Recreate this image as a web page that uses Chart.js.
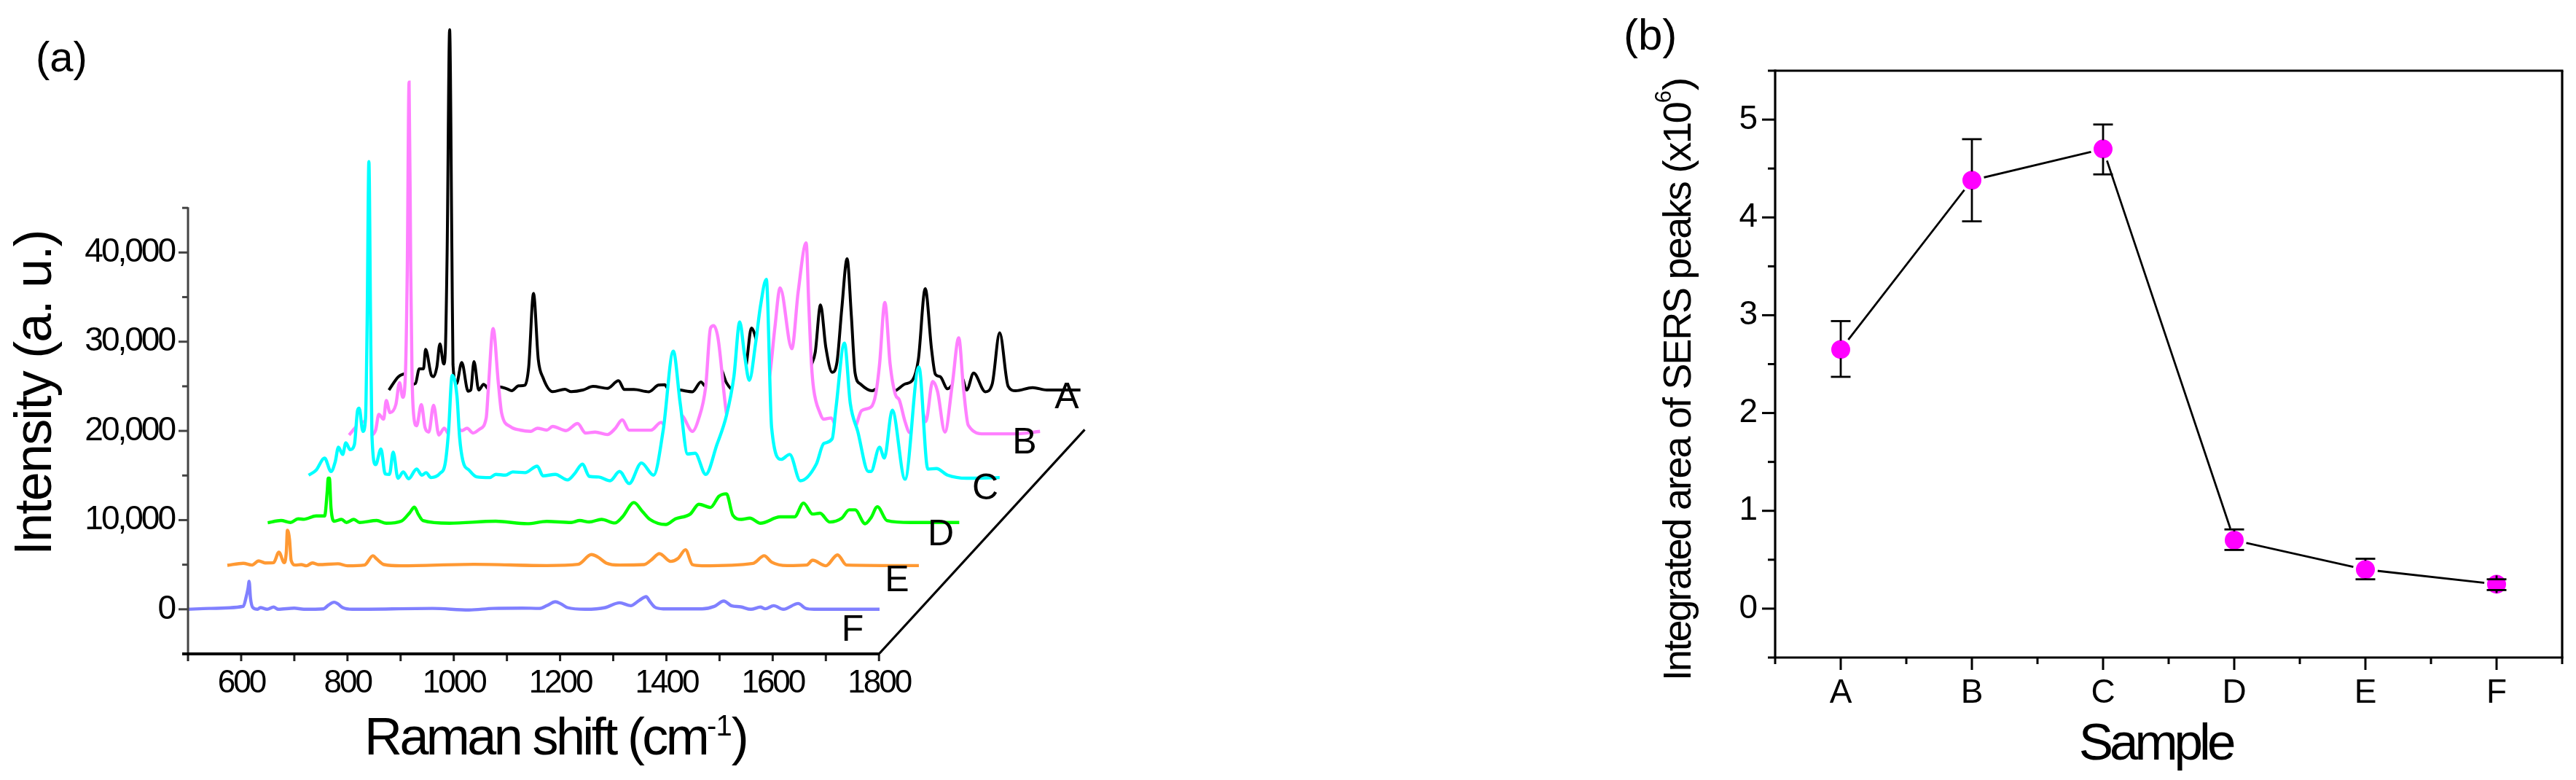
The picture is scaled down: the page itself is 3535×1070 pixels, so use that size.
<!DOCTYPE html>
<html><head><meta charset="utf-8">
<script src="https://cdn.jsdelivr.net/npm/chart.js@4"></script>
<style>
html,body{margin:0;padding:0;background:#fff;width:3535px;height:1070px;overflow:hidden}
canvas{position:absolute;top:0;left:0}
#wrapA{position:absolute;left:0;top:0;width:1540px;height:1070px}
#wrapB{position:absolute;left:2100px;top:0;width:1435px;height:1070px}
</style></head><body>
<div id="wrapA"><canvas id="a" width="1540" height="1070"></canvas></div>
<div id="wrapB"><canvas id="b" width="1435" height="1070"></canvas></div>
<script>
const FONT='"Liberation Sans"';
// ---- panel (a): spectra as drawn in the waterfall, [plotted shift, intensity]
const spectrumA=[[878,24580],[896,26080],[910,26410],[921,25210],[928,25320],[935,26960],[943,26960],[947,29140],[958,26220],[962,26080],[968,27100],[974,29760],[981,27500],[984,28810],[987.5,40000],[992.2,64980],[996.5,40000],[998.5,27450],[1005,25270],[1015,27670],[1027,24450],[1032,24580],[1038,27770],[1047,24580],[1056,25210],[1068,24580],[1086,24940],[1100,24720],[1109,24500],[1122,25050],[1134,25130],[1141,27180],[1150,35410],[1159,28000],[1168,25950],[1186,24400],[1209,24660],[1221,24400],[1243,24580],[1262,24990],[1289,24770],[1310,25620],[1321,24640],[1339,24640],[1367,24390],[1385,25130],[1397,25180],[1403,24720],[1424,24580],[1449,24390],[1465,25480],[1474,24990],[1490,25500],[1502,26900],[1513,25400],[1526,24580],[1540,25500],[1550,27310],[1560,31530],[1570,30000],[1585,26000],[1600,25000],[1640,24700],[1660,25500],[1673,27440],[1680,28800],[1690,34120],[1700,29350],[1712,26570],[1721,27720],[1730,33710],[1740,39300],[1748,32900],[1755,26490],[1765,25260],[1787,24500],[1796,24720],[1812,24400],[1828,24450],[1849,25260],[1863,25670],[1874,27990],[1887,35950],[1899,29080],[1906,26350],[1915,26080],[1929,24720],[1940,25260],[1948,25500],[1956,25940],[1965,24580],[1978,26490],[2000,24390],[2013,25260],[2027,30990],[2043,25000],[2057,24500],[2089,24850],[2116,24580],[2179,24580]];
const spectrumB=[[803,19540],[819,20630],[832,21040],[838,21000],[844,19540],[853,20090],[859,21860],[868,21310],[873,23410],[880,22050],[891,22950],[898,25400],[904,23760],[909,26360],[912.5,38000],[915.9,59090],[919,38000],[921.4,26630],[923.6,22540],[930,20580],[939,22950],[946,20360],[953,19870],[962,22870],[972,19540],[982,20300],[992,19540],[1000,19800],[1006,20400],[1015,20030],[1025,20300],[1036,19760],[1049,20220],[1061,21450],[1065,24720],[1074,31480],[1084,25270],[1090,22000],[1106,20500],[1125,20090],[1145,19950],[1157,20300],[1175,20090],[1186,20500],[1211,20030],[1233,20820],[1248,19760],[1266,19870],[1289,19590],[1303,20220],[1317,21230],[1330,20080],[1371,20080],[1390,20960],[1398,20500],[1412,20100],[1428,21720],[1449,19950],[1460,21230],[1474,24990],[1483,31530],[1489,31800],[1497,30440],[1515,21310],[1535,19700],[1554,19500],[1575,21000],[1595,26490],[1604,31530],[1614,36030],[1636,29220],[1648,35620],[1663,41070],[1668,34000],[1673,27440],[1677,24720],[1689,22000],[1696,21310],[1710,21450],[1719,20500],[1735,19800],[1755,20360],[1767,22260],[1785,22670],[1794,24170],[1801,27440],[1811,34400],[1821,27440],[1831,24040],[1838,23490],[1849,21040],[1858,19810],[1870,20200],[1881,22260],[1888,21040],[1901,25540],[1910,24450],[1924,19870],[1938,25260],[1950,30440],[1959,24720],[1968,20630],[1998,19670],[2057,19670],[2103,19950]];
const spectrumC=[[727,15040],[741,15590],[757,16950],[769,15450],[777,16540],[783,18180],[791,17360],[797,18670],[805,17900],[813,18450],[819,22270],[822,22540],[829,19950],[834,21450],[837,32000],[840.3,50180],[843.5,32000],[846,19540],[853,16220],[863,17960],[871,15180],[879,15130],[886,17630],[895,14690],[905,15400],[915,14635],[930,15720],[940,15040],[948,15320],[957,14770],[974,15230],[984,16400],[990,19810],[997,26220],[1006,23900],[1011,19270],[1017,16680],[1029,15590],[1043,14850],[1068,14770],[1079,15130],[1097,15040],[1111,15400],[1134,15320],[1157,16050],[1168,14960],[1191,15130],[1214,14500],[1227,15180],[1242,16270],[1255,14900],[1273,14825],[1294,14410],[1312,15450],[1330,14090],[1353,16400],[1376,15040],[1394,20080],[1413,28940],[1426,23080],[1440,17410],[1454,17490],[1474,15120],[1495,18450],[1513,21720],[1527,26080],[1538,32210],[1547,28530],[1556,25670],[1568,29900],[1577,33990],[1588,36985],[1598,20360],[1616,16810],[1632,17360],[1652,14410],[1682,16270],[1696,18580],[1712,19130],[1719,22540],[1735,29840],[1746,23080],[1760,19950],[1780,15450],[1785,15450],[1801,18180],[1810,16950],[1825,22320],[1849,14580],[1875,27170],[1892,15720],[1908,15780],[1929,15040],[1965,14690],[2027,14770]];
const spectrumD=[[650,9700],[675,9950],[693,9730],[707,10140],[718,10090],[741,10470],[757,10470],[762,13270],[763.7,14690],[766,14690],[769,11360],[775,9870],[789,10080],[798,9730],[812,10080],[823,9730],[855,9950],[873,9650],[901,9870],[917,10820],[926,11450],[933,10680],[942,9950],[992,9650],[1079,9870],[1138,9600],[1175,9850],[1221,9730],[1237,9950],[1255,9790],[1278,10080],[1303,9680],[1317,10330],[1339,11965],[1355,10960],[1369,10080],[1399,9510],[1417,10140],[1445,10680],[1461,11775],[1483,11420],[1499,12675],[1513,12950],[1525,10550],[1541,10080],[1557,10220],[1577,9650],[1614,10360],[1641,10360],[1658,11910],[1675,10680],[1689,10770],[1707,9785],[1730,10220],[1744,11150],[1755,11150],[1774,9590],[1785,10270],[1797,11500],[1815,9950],[1860,9730],[1951,9730]];
const spectrumE=[[574,4930],[604,5150],[620,4960],[633,5420],[645,5200],[661,5230],[671,6400],[681,5230],[685,6460],[687,8860],[691,7820],[694,5500],[702,4960],[713,5010],[723,4880],[734,5200],[745,5010],[782,5100],[800,4880],[832,4960],[848,6000],[855,5640],[869,5010],[901,4880],[1038,5040],[1175,4900],[1234,5040],[1259,6130],[1271,5860],[1287,5180],[1312,4960],[1358,5010],[1371,5500],[1387,6240],[1408,5370],[1422,5700],[1436,6680],[1449,5010],[1467,4880],[1563,5150],[1584,6000],[1598,5290],[1627,4900],[1664,4960],[1675,5500],[1700,4880],[1722,6100],[1739,4960],[1860,4900],[1875,4900]];
const spectrumF=[[500,0],[540,100],[604,330],[609,1280],[613,2370],[615,3130],[617.5,1280],[622,190],[631,0],[636,190],[649,0],[661,245],[670,0],[700,130],[718,0],[755,50],[764,460],[775,790],[782,600],[791,190],[809,0],[960,100],[1029,-80],[1074,100],[1129,130],[1161,100],[1175,407],[1191,844],[1202,600],[1214,190],[1248,0],[1285,190],[1312,735],[1333,407],[1349,1000],[1362,1416],[1369,870],[1378,250],[1394,50],[1467,50],[1490,325],[1508,925],[1522,407],[1540,270],[1559,0],[1577,245],[1586,60],[1602,407],[1620,0],[1648,650],[1662,110],[1678,0],[1801,0]];
const spectrumNames=['A','B','C','D','E','F'];
const spectrumColors=['#000000','#FF80FF','#00FFFF','#00FF00','#FF9933','#8080FF'];
const spectrumBases=[24600,19900,14900,9750,4900,0];
const spectra=[spectrumA,spectrumB,spectrumC,spectrumD,spectrumE,spectrumF];
const depthEdgeX=[1800,2187];
const depthEdgeY=[-5000,20140];
const shiftTicks=[500,600,700,800,900,1000,1100,1200,1300,1400,1500,1600,1700,1800];
const intensityTicks=[-5000,0,5000,10000,15000,20000,25000,30000,35000,40000,45000];
// ---- panel (b)
const samples=['A','B','C','D','E','F'];
const areas=[2.65,4.38,4.70,0.70,0.40,0.25];
const areaUpper=[2.94,4.80,4.95,0.81,0.51,0.30];
const areaLower=[2.37,3.96,4.44,0.60,0.30,0.19];
const areaTicks=[-0.5,0,0.5,1,1.5,2,2.5,3,3.5,4,4.5,5,5.5];
const sampleTicks=[0.5,1,1.5,2,2.5,3,3.5,4,4.5,5,5.5,6,6.5];

function put(ctx,txt,x,y,size,spacing,opt){
  opt=opt||{};
  ctx.save();
  ctx.font=size+'px '+FONT;
  ctx.letterSpacing=spacing+'px';
  ctx.fillStyle='#000';
  ctx.textAlign=opt.align||'left';
  ctx.textBaseline='alphabetic';
  ctx.translate(x,y);
  if(opt.rot)ctx.rotate(opt.rot);
  ctx.fillText(txt,0,opt.dy||0);
  const w=ctx.measureText(txt).width;
  ctx.restore();
  return w;
}
function line(ctx,x1,y1,x2,y2,w,c){
  ctx.save();ctx.lineWidth=w;ctx.strokeStyle=c;ctx.lineCap='butt';ctx.beginPath();ctx.moveTo(x1,y1);ctx.lineTo(x2,y2);ctx.stroke();ctx.restore();
}
const noPad=s=>{s.paddingLeft=0;s.paddingRight=0;s.paddingTop=0;s.paddingBottom=0;};
const panelA={id:'panelA',
  beforeDraw(c){c.ctx.letterSpacing='-3px';},
  afterDraw(c){
    const ctx=c.ctx,X=c.scales.x,Y=c.scales.y;
    ctx.letterSpacing='0px';
    const x0=X.getPixelForValue(500),x1=X.getPixelForValue(1800),y0=Y.getPixelForValue(-5000),y1=Y.getPixelForValue(45000);
    shiftTicks.forEach(v=>{const p=X.getPixelForValue(v);line(ctx,p,y0,p,y0+10,3,'#222');});
    intensityTicks.forEach(v=>{const p=Y.getPixelForValue(v);line(ctx,x0,p,x0-(v%10000===0?13:8),p,3,'#444');});
    line(ctx,x0,y1-1,x0,y0,3,'#444');
    line(ctx,x0-8,y0,x1+1,y0,4,'#000');
    put(ctx,'(a)',49,98,58,0);
    let x=500;
    x+=put(ctx,'Raman shift (cm',x,1035,72,-3.6);
    x+=put(ctx,'-1',x,1009,40,-1);
    put(ctx,')',x,1035,72,0);
    put(ctx,'Intensity (a. u.)',70,762,72,-1.8,{rot:-Math.PI/2});
    const lab=[[1464,560],[1406,622],[1352,685],[1291,748],[1231,811],[1170,879]];
    spectrumNames.forEach((n,i)=>put(ctx,n,lab[i][0],lab[i][1],50,0,{align:'center'}));
  }
};
const panelB={id:'panelB',
  afterDatasetsDraw(c){
    const ctx=c.ctx,X=c.scales.x,Y=c.scales.y,r=13;
    samples.forEach((s,i)=>{
      const px=X.getPixelForValue(i+1),py=Y.getPixelForValue(areas[i]),u=Y.getPixelForValue(areaUpper[i]),l=Y.getPixelForValue(areaLower[i]);
      line(ctx,px-13.5,u,px+13.5,u,2.8,'#000');
      line(ctx,px-13.5,l,px+13.5,l,2.8,'#000');
      line(ctx,px,u,px,py-r+1,2.8,'#000');
      line(ctx,px,l,px,py+r-1,2.8,'#000');
    });
  },
  afterDraw(c){
    const ctx=c.ctx,X=c.scales.x,Y=c.scales.y,a=c.chartArea,O=2100;
    ctx.letterSpacing='0px';
    line(ctx,a.left,a.top,a.right+1.5,a.top,3.2,'#000');
    line(ctx,a.right,a.top,a.right,a.bottom,3.2,'#000');
    line(ctx,a.left,a.top-1.5,a.left,a.bottom,3.2,'#000');
    line(ctx,a.left,a.bottom,a.right+1.5,a.bottom,3.2,'#000');
    areaTicks.forEach(v=>{const p=Y.getPixelForValue(v);line(ctx,a.left,p,a.left-(Number.isInteger(v)?18:10),p,3,'#000');});
    sampleTicks.forEach(v=>{const p=X.getPixelForValue(v);line(ctx,p,a.bottom,p,a.bottom+(Number.isInteger(v)?17:9),3,'#000');});
    put(ctx,'(b)',2228-O,68,60,0);
    put(ctx,'Sample',2958-O,1042,71,-5,{align:'center'});
    let y=934,bx=2320-O,R=-Math.PI/2;
    y-=put(ctx,'Integrated area of SERS peaks (x10',bx,y,54,-2.2,{rot:R});
    y-=put(ctx,'6',bx-27,y,31,0,{rot:R});
    put(ctx,')',bx,y,54,0,{rot:R});
  }
};
new Chart(document.getElementById('a'),{
  type:'scatter',
  data:{datasets:spectra.map((s,i)=>({
      label:spectrumNames[i],
      data:s.map(p=>({x:p[0],y:p[1]})),
      showLine:true,order:6-i,pointRadius:0,
      borderColor:spectrumColors[i],borderWidth:i===0?4:4.4,
      backgroundColor:'#ffffff',fill:{value:spectrumBases[i]},
      cubicInterpolationMode:'monotone',clip:false
    })).concat([{label:'depth',data:depthEdgeX.map((v,i)=>({x:v,y:depthEdgeY[i]})),showLine:true,order:9,pointRadius:0,borderColor:'#000',borderWidth:3.2,fill:false}])},
  options:{responsive:false,animation:false,devicePixelRatio:1,
    layout:{padding:{top:16,right:42,left:0,bottom:0}},
    plugins:{legend:{display:false},tooltip:{enabled:false},filler:{drawTime:'beforeDatasetDraw'}},
    scales:{
      x:{type:'linear',min:500,max:2200,afterFit:s=>{s.height=173;noPad(s);},
        afterBuildTicks:s=>{s.ticks=shiftTicks.map(v=>({value:v}));},
        grid:{display:false,drawTicks:false},border:{display:false},
        title:{display:false,text:'Raman shift (cm-1)'},
        ticks:{autoSkip:false,maxRotation:0,padding:14,color:'#000',font:{family:FONT,size:44},callback:v=>(v%200===0?String(v):'')}},
      y:{type:'linear',min:-5000,max:67000,afterFit:s=>{s.width=258;noPad(s);},
        afterBuildTicks:s=>{s.ticks=intensityTicks.map(v=>({value:v}));},
        grid:{display:false,drawTicks:false},border:{display:false},
        title:{display:false,text:'Intensity (a. u.)'},
        ticks:{autoSkip:false,padding:19,color:'#000',font:{family:FONT,size:46},callback:v=>(v%10000===0?v.toLocaleString('en-US'):'')}}
    }},
  plugins:[panelA]
});
new Chart(document.getElementById('b'),{
  type:'scatter',
  data:{datasets:[{label:'Integrated area',data:areas.map((v,i)=>({x:i+1,y:v})),showLine:true,
    borderColor:'#000',borderWidth:2.8,pointRadius:15,pointBorderWidth:4,pointBorderColor:'#fff',pointBackgroundColor:'#FF00FF',clip:false}]},
  options:{responsive:false,animation:false,devicePixelRatio:1,
    layout:{padding:{top:97,right:17,left:0,bottom:0}},
    plugins:{legend:{display:false},tooltip:{enabled:false}},
    scales:{
      x:{type:'linear',min:0.5,max:6.5,afterFit:s=>{s.height=168;noPad(s);},
        afterBuildTicks:s=>{s.ticks=sampleTicks.map(v=>({value:v}));},
        grid:{display:false,drawTicks:false},border:{display:false},
        title:{display:false,text:'Sample'},
        ticks:{autoSkip:false,maxRotation:0,padding:22,color:'#000',font:{family:FONT,size:46},callback:v=>(Number.isInteger(v)?samples[v-1]:'')}},
      y:{type:'linear',min:-0.5,max:5.5,afterFit:s=>{s.width=336;noPad(s);},
        afterBuildTicks:s=>{s.ticks=areaTicks.map(v=>({value:v}));},
        grid:{display:false,drawTicks:false},border:{display:false},
        title:{display:false,text:'Integrated area of SERS peaks (x10^6)'},
        ticks:{autoSkip:false,padding:24,color:'#000',font:{family:FONT,size:46},callback:v=>(Number.isInteger(v)?String(v):'')}}
    }},
  plugins:[panelB]
});
</script>
</body></html>
